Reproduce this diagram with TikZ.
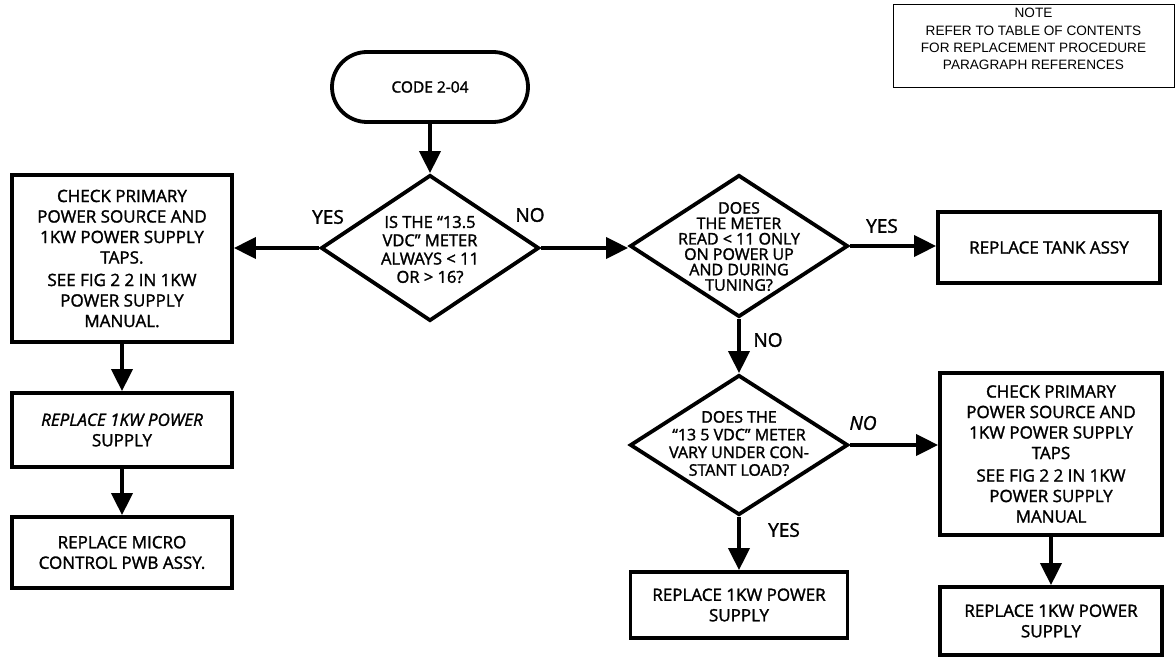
\documentclass[tikz,border=0pt]{standalone}
\usepackage{fontspec}
\setmainfont{Open Sans}[FakeBold=1.6,AutoFakeBold=1.6]
\newfontfamily\notefont{Liberation Sans}
\usetikzlibrary{shapes.geometric,arrows.meta}
\begin{document}
\begin{tikzpicture}[x=1pt,y=-1pt,
  every node/.style={font=\bfseries\fontsize{17}{20.5}\selectfont, align=center},
  box/.style={draw, line width=3.8pt, inner sep=0pt},
  dia/.style={draw, diamond, line width=3.8pt, inner sep=0pt},
  diatext/.style={font=\bfseries\fontsize{16.5}{18.3}\selectfont, inner sep=0pt},
  lbl/.style={font=\bfseries\fontsize{19}{20}\selectfont, inner sep=0pt},
  arr/.style={line width=3.8pt, -{Triangle[length=22pt,width=21pt]}},
  note/.style={draw, line width=1pt, inner sep=0pt}
]
\useasboundingbox (0,0) rectangle (1176,660);

\node[note, minimum width=281pt, minimum height=83pt] (note) at (1033.5,46.5) {};
\node[inner sep=0pt, font=\notefont\fontsize{13.6}{17.2}\selectfont] (notet) at (1033.5,39)
  {NOTE\\REFER TO TABLE OF CONTENTS\\FOR REPLACEMENT PROCEDURE\\PARAGRAPH REFERENCES};

\node[draw, line width=3.8pt, rounded corners=35pt, minimum width=196pt, minimum height=70pt, inner sep=0pt, font=\bfseries\fontsize{15.5}{18}\selectfont] (t) at (430,87) {CODE 2-04};

\node[dia, minimum width=218pt, minimum height=146pt] (d1) at (430,248) {};
\node[diatext] (d1t) at (430,249.5) {IS THE “13.5\\VDC” METER\\ALWAYS < 11\\OR > 16?};

\node[box, minimum width=220pt, minimum height=167pt] (b1) at (122,258.5)
  {CHECK PRIMARY\\POWER SOURCE AND\\1KW POWER SUPPLY\\TAPS.\\[2pt]SEE FIG 2 2 IN 1KW\\POWER SUPPLY\\MANUAL.};
\node[box, minimum width=220pt, minimum height=74pt] (b2) at (122,430)
  {\itshape REPLACE 1KW POWER\\SUPPLY};
\node[box, minimum width=220pt, minimum height=71pt] (b3) at (122,552.5)
  {REPLACE MICRO\\CONTROL PWB ASSY.};

\node[dia, minimum width=218pt, minimum height=142pt] (d2) at (739,246) {};
\node[diatext, font=\bfseries\fontsize{16}{15.4}\selectfont] (d2t) at (739,246.5) {DOES\\THE METER\\READ < 11 ONLY\\ON POWER UP\\AND DURING\\TUNING?};

\node[box, minimum width=222pt, minimum height=71pt] (tank) at (1049,247.5) {REPLACE TANK ASSY};

\node[dia, minimum width=218pt, minimum height=140pt] (d3) at (739,445) {};
\node[diatext, font=\bfseries\fontsize{16}{17.7}\selectfont] (d3t) at (739,443.5) {DOES THE\\“13 5 VDC” METER\\VARY UNDER CON-\\STANT LOAD?};

\node[box, minimum width=217pt, minimum height=66pt] (r1) at (739,605) {REPLACE 1KW POWER\\SUPPLY};

\node[box, minimum width=222pt, minimum height=162pt] (cb) at (1051,454)
  {CHECK PRIMARY\\POWER SOURCE AND\\1KW POWER SUPPLY\\TAPS\\[2pt]SEE FIG 2 2 IN 1KW\\POWER SUPPLY\\MANUAL};
\node[box, minimum width=222pt, minimum height=68pt] (rb) at (1051,621) {REPLACE 1KW POWER\\SUPPLY};

\node[lbl] (l1) at (328,217) {YES};
\node[lbl] (l2) at (530,215) {NO};
\node[lbl] (l3) at (882,226) {YES};
\node[lbl] (l4) at (768,340) {NO};
\node[lbl] (l5) at (863,423) {\itshape NO};
\node[lbl] (l6) at (784,530) {YES};

\draw[arr] (t.south) -- (d1.north);
\draw[arr] (d1.west) -- (d1.west -| b1.east);
\draw[arr] (b1.south) -- (b2.north);
\draw[arr] (b2.south) -- (b3.north);
\draw[arr] (d1.east) -- (d1.east -| d2.west);
\draw[arr] (d2.east) -- (d2.east -| tank.west);
\draw[arr] (d2.south) -- (d3.north);
\draw[arr] (d3.south) -- (r1.north);
\draw[arr] (d3.east) -- (d3.east -| cb.west);
\draw[arr] (cb.south) -- (rb.north);
\end{tikzpicture}
\end{document}
